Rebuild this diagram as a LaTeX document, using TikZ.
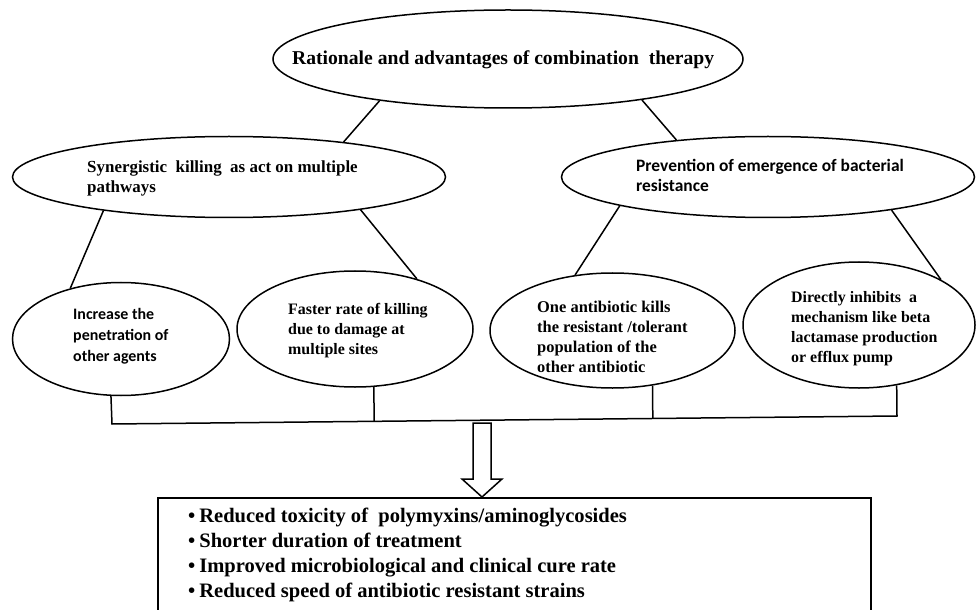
\documentclass[tikz,border=0pt]{standalone}
\usepackage{fontspec}
\setmainfont{Liberation Serif}
\newfontfamily\calfont{Carlito}
\usetikzlibrary{shapes.geometric,calc}
\begin{document}
\begin{tikzpicture}[x=1bp,y=-1bp,
  ell/.style={draw,ellipse,line width=1.5bp,inner sep=0pt},
  conn/.style={line width=1.5bp},
  txt/.style={anchor=base west,align=left,inner sep=0pt},
  serifA/.style={font=\bfseries\fontsize{19.7}{24}\selectfont},
  serifB/.style={font=\bfseries\fontsize{17}{21}\selectfont},
  serifC/.style={font=\bfseries\fontsize{16}{20}\selectfont},
  serifD/.style={font=\bfseries\fontsize{16.5}{20}\selectfont},
  calB/.style={font=\calfont\bfseries\fontsize{17.5}{21}\selectfont},
  calC/.style={font=\calfont\bfseries\fontsize{16}{21}\selectfont},
  listfont/.style={font=\bfseries\fontsize{20.6}{25}\selectfont}]
\useasboundingbox (0,0) rectangle (976,610);
\clip (0,0) rectangle (976,610);

% ellipses
\node[ell,minimum width=470bp,minimum height=98bp] (top) at (508,59) {};
\node[ell,minimum width=433bp,minimum height=81bp] (synL) at (229,177) {};
\node[ell,minimum width=413bp,minimum height=81bp] (prevR) at (768,177) {};
\node[ell,minimum width=217bp,minimum height=113bp] (e1) at (121,339) {};
\node[ell,minimum width=236bp,minimum height=116bp] (e2) at (355,329) {};
\node[ell,minimum width=245bp,minimum height=115bp] (e3) at (612.5,330.5) {};
\node[ell,minimum width=232bp,minimum height=126bp] (e4) at (859,325) {};

% texts (anchor = baseline of last line)
\node[txt,serifA] (tTop) at (292,65) {Rationale and advantages of combination\ \ therapy};
\node[txt,serifB] (tSyn) at (87,193) {Synergistic\ \ killing\ \ as act on multiple\\pathways};
\node[txt,calB] (tPrev) at (636,192) {Prevention of emergence of bacterial\\resistance};
\node[txt,calC] (t1) at (73,361) {Increase the\\penetration of\\other agents};
\node[txt,serifC] (t2) at (288,354) {Faster rate of killing\\due to damage at\\multiple sites};
\node[txt,serifD] (t3) at (537,372) {One antibiotic kills\\the resistant /tolerant\\population of the\\other antibiotic};
\node[txt,serifC] (t4) at (791,362) {Directly inhibits\ \ a\\mechanism like beta\\lactamase production\\or efflux pump};

% connectors tree
\draw[conn] (top.198.6) -- (synL.17.2);
\draw[conn] (top.343.3) -- (prevR.158.1);
\draw[conn] (synL.195) -- (e1.135.5);
\draw[conn] (synL.346.8) -- (e2.39.4);
\draw[conn] (prevR.191.8) -- (e3.124);
\draw[conn] (prevR.345.9) -- (e4.29.2);

% bus
\coordinate (busL) at (112,424);
\coordinate (busR) at (897,416);
\draw[conn] (e1.260.9) -- (busL) -- (busR) -- (e4.302.6);
\draw[conn] (e2.288) -- ($(busL)!(e2.288)!(busR)$);
\draw[conn] (e3.306.7) -- ($(busL)!(e3.306.7)!(busR)$);

% result box
\node[draw,line width=1.5bp,anchor=north west,minimum width=713bp,minimum height=150bp,inner sep=0pt] (res) at (157,497) {};
\coordinate (tip) at ($(res.north west)+(325,0)$);
\draw[conn,fill=white,line join=miter] (tip) -- ++(-20,-18) -- ++(11,0) -- ++(0,-56) -- ++(18,0) -- ++(0,56) -- ++(11,0) -- cycle;

\node[txt,listfont] (list) at (188,597) {\textbullet\hspace{4bp}Reduced toxicity of\ \ polymyxins/aminoglycosides\\
\textbullet\hspace{4bp}Shorter duration of treatment\\
\textbullet\hspace{4bp}Improved microbiological and clinical cure rate\\
\textbullet\hspace{4bp}Reduced speed of antibiotic resistant strains};
\end{tikzpicture}
\end{document}
